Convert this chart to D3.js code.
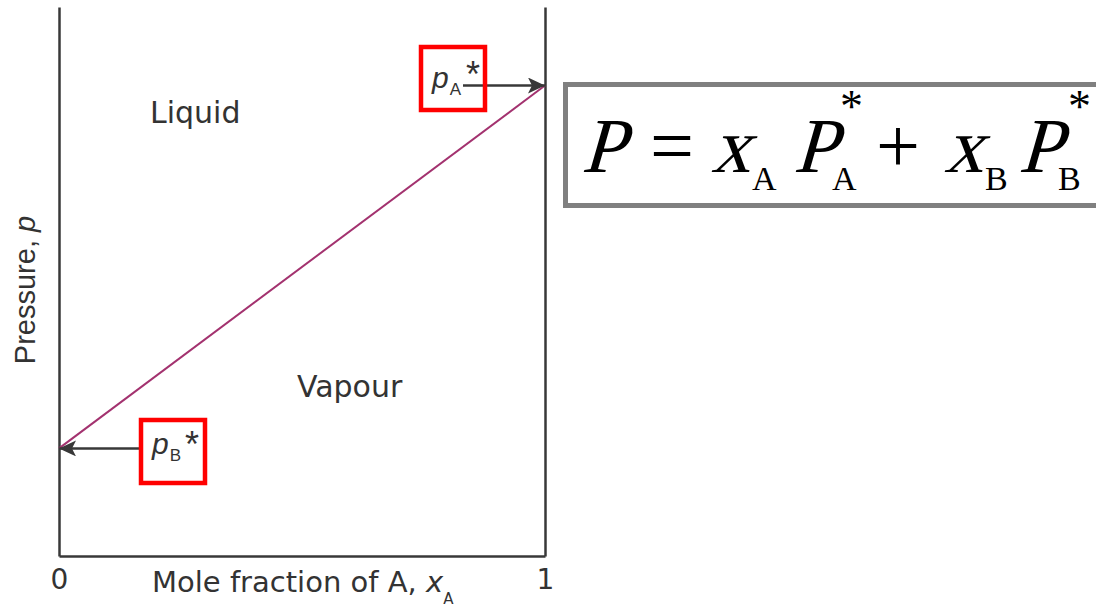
<!DOCTYPE html>
<html>
<head>
<meta charset="utf-8">
<script src="https://cdn.jsdelivr.net/npm/d3@7"></script>
<style>
    body { margin: 0; background: #fff; }
    svg { display: block; }
</style>
</head>
<body>
<div id="chart"></div>
<script>

// ---- data ----
const moleFractionA = [0, 1];          // x_A at the two ends of the line
const totalPressure = [0.196, 0.857];  // p = p_B* at x_A = 0, p_A* at x_A = 1
const xTickValues = [0, 1];
const xTickLabels = ["0", "1"];
const pureComponents = ["B", "A"];     // which pure vapour pressure sits at each end
const regionNames = ["Liquid", "Vapour"];

// ---- layout ----
const width = 1096, height = 608;
const frame = {left: 59, right: 545, top: 7, bottom: 556};
const axisColor = "#383838";
const sansFont = "'DejaVu Sans', sans-serif";
const serifFont = "'Liberation Serif', 'Times New Roman', serif";

const svg = d3.select("#chart").append("svg")
    .attr("width", width)
    .attr("height", height);

const x = d3.scaleLinear().domain([0, 1]).range([frame.left, frame.right]);
const y = d3.scaleLinear().domain([0, 1]).range([frame.bottom, frame.top]);

// arrow head
svg.append("defs").append("marker")
    .attr("id", "arrowhead")
    .attr("markerUnits", "userSpaceOnUse")
    .attr("viewBox", "0 0 17 16")
    .attr("markerWidth", 17)
    .attr("markerHeight", 16)
    .attr("refX", 17)
    .attr("refY", 8)
    .attr("orient", "auto")
    .append("path")
    .attr("d", "M0,0 L17,8 L0,16 L4,8 Z")
    .attr("fill", axisColor);

// frame: left, right and bottom lines (no ticks)
const leftAxis = svg.append("g")
    .attr("transform", `translate(${frame.left},0)`)
    .call(d3.axisLeft(y).tickValues([]).tickSizeOuter(0));
const rightAxis = svg.append("g")
    .attr("transform", `translate(${frame.right},0)`)
    .call(d3.axisRight(y).tickValues([]).tickSizeOuter(0));
const bottomAxis = svg.append("g")
    .attr("transform", `translate(0,${frame.bottom})`)
    .call(d3.axisBottom(x)
        .tickValues(xTickValues)
        .tickFormat((d, i) => xTickLabels[i])
        .tickSize(0)
        .tickPadding(13));

[leftAxis, rightAxis, bottomAxis].forEach(g => {
    g.select(".domain")
        .attr("stroke", axisColor)
        .attr("stroke-width", 2.5);
});
bottomAxis.selectAll(".tick text")
    .attr("fill", "#333")
    .style("font-family", sansFont)
    .style("font-size", "28px");

// axis titles
const xTitle = svg.append("text")
    .attr("x", 152)
    .attr("y", 592)
    .attr("fill", "#333")
    .style("font-family", sansFont)
    .style("font-size", "29px");
xTitle.append("tspan").text("Mole fraction of A, ");
xTitle.append("tspan").attr("font-style", "italic").text("x");
xTitle.append("tspan").attr("dy", 12).style("font-size", "15px").text("A");

const yTitle = svg.append("text")
    .attr("transform", `translate(35,290) rotate(-90)`)
    .attr("text-anchor", "middle")
    .attr("fill", "#333")
    .style("font-family", "'Liberation Sans', Arial, sans-serif")
    .style("font-size", "29px");
yTitle.append("tspan").text("Pressure, ");
yTitle.append("tspan").attr("font-style", "italic").text("p");

// region labels
const regionPos = [{x: 150, y: 123}, {x: 297, y: 397}];
svg.selectAll(".region")
    .data(regionNames)
    .enter().append("text")
    .attr("class", "region")
    .attr("x", (d, i) => regionPos[i].x)
    .attr("y", (d, i) => regionPos[i].y)
    .attr("fill", "#333")
    .style("font-family", sansFont)
    .style("font-size", "30px")
    .text(d => d);

// the straight line p = x_A p_A* + x_B p_B*
const line = d3.line()
    .x((d, i) => x(moleFractionA[i]))
    .y(d => y(d));
svg.append("path")
    .datum(totalPressure)
    .attr("d", line)
    .attr("fill", "none")
    .attr("stroke", "#a3326f")
    .attr("stroke-width", 2);

// labelled arrows pointing to the pure vapour pressures
const boxes = [
    {tail: 139, box: {x: 141, y: 420}, text: {x: 152, y: 454}, star: {x: 185, y: 457}},
    {tail: 463, box: {x: 421, y: 47},  text: {x: 432, y: 88},  star: {x: 466, y: 87}}
];

pureComponents.forEach((name, i) => {
    const b = boxes[i];
    const py = y(totalPressure[i]);

    svg.append("line")
        .attr("x1", b.tail)
        .attr("x2", x(moleFractionA[i]))
        .attr("y1", py)
        .attr("y2", py)
        .attr("stroke", axisColor)
        .attr("stroke-width", 2.5)
        .attr("marker-end", "url(#arrowhead)");

    svg.append("rect")
        .attr("x", b.box.x)
        .attr("y", b.box.y)
        .attr("width", 64)
        .attr("height", 63)
        .attr("fill", "none")
        .attr("stroke", "#ff0000")
        .attr("stroke-width", 4.5);

    const label = svg.append("text")
        .attr("x", b.text.x)
        .attr("y", b.text.y)
        .attr("fill", "#333")
        .style("font-family", "'Liberation Sans', Arial, sans-serif")
        .style("font-size", "30px");
    label.append("tspan").attr("font-style", "italic").text("p");
    label.append("tspan").attr("dx", 1).attr("dy", 7).style("font-size", "17px").text(name);

    svg.append("text")
        .attr("x", b.star.x)
        .attr("y", b.star.y)
        .attr("fill", "#333")
        .style("font-family", "'Liberation Sans', Arial, sans-serif")
        .style("font-size", "36px")
        .text("*");
});

// equation box: P = x_A P_A* + x_B P_B*
svg.append("rect")
    .attr("x", 565.5)
    .attr("y", 84.5)
    .attr("width", 620)
    .attr("height", 121)
    .attr("fill", "#fff")
    .attr("stroke", "#808080")
    .attr("stroke-width", 5);

const eqBase = 172;
const eqPieces = [
    {t: "P", x: 581, it: true},
    {t: "=", x: 650},
    {t: "x", x: 711, it: true},
    {t: "A", x: 752, sub: true},
    {t: "P", x: 793, it: true},
    {t: "A", x: 832, sub: true},
    {t: "*", x: 840, sup: true},
    {t: "+", x: 876},
    {t: "x", x: 944, it: true},
    {t: "B", x: 985, sub: true},
    {t: "P", x: 1018, it: true},
    {t: "B", x: 1058, sub: true},
    {t: "*", x: 1068, sup: true}
];
// italic pieces are slanted regular serif glyphs
svg.selectAll(".eq")
    .data(eqPieces)
    .enter().append("text")
    .attr("class", "eq")
    .attr("transform", d => {
        const ty = d.sub ? eqBase + 18 : d.sup ? 122 : eqBase;
        return `translate(${d.x},${ty})` + (d.it ? " skewX(-16)" : "");
    })
    .attr("fill", "#000")
    .style("font-family", serifFont)
    .style("font-size", d => d.sub ? "34px" : d.sup ? "46px" : "78px")
    .text(d => d.t);

</script>
</body>
</html>
